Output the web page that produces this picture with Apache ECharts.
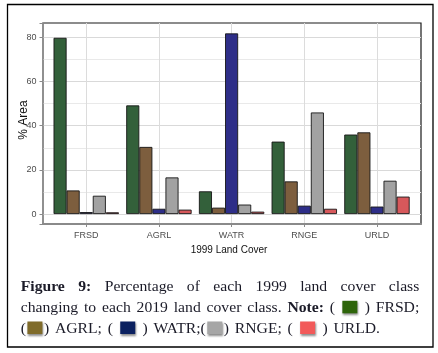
<!DOCTYPE html>
<html><head><meta charset="utf-8">
<script src="https://cdn.jsdelivr.net/npm/echarts@6/dist/echarts.min.js"></script>
<style>html,body{margin:0;padding:0;background:#fff}#c{width:438px;height:353px}</style>
</head><body><div id="c"></div>
<script>
// ---- data ----
const categories = ['FRSD', 'AGRL', 'WATR', 'RNGE', 'URLD'];
const seriesNames = ['FRSD', 'AGRL', 'WATR', 'RNGE', 'URLD'];
const frsdValues = [79.8, 49.2, 10.3, 32.8, 36.0];
const agrlValues = [10.7, 30.4, 2.9, 14.8, 37.0];
const watrValues = [0.9, 2.4, 81.8, 3.8, 3.4];
const rngeValues = [8.3, 16.6, 4.3, 46.0, 15.1];
const urldValues = [0.8, 2.0, 1.1, 2.4, 7.9];
const yTickLabels = [0, 20, 40, 60, 80];
const xTitle = '1999 Land Cover';
const yTitle = '% Area';

// ---- styles ----
const barColors = ['#33603a', '#7d5e3e', '#2e2e88', '#a2a2a2', '#d7585b'];
const swatchColors = ['#2d640a', '#7f6b2a', '#0b2160', '#a6a6a6', '#f25a5a'];
const SANS = '"Liberation Sans Narrow", "Liberation Sans", Arial, sans-serif';
const SANS2 = '"Liberation Sans", Arial, sans-serif';
const SERIF = '"Liberation Serif", "Times New Roman", serif';

const chart = echarts.init(document.getElementById('c'), null, {renderer: 'canvas'});

const allValues = [frsdValues, agrlValues, watrValues, rngeValues, urldValues];
const yMin = -4.5, yMax = 86.5;

// split line colours cycle per 0.5 step starting at -4.5
const splitColors = [];
for (let i = 0; i < 40; i++) splitColors.push('rgba(0,0,0,0)');
splitColors[9] = '#d9d9d9';   // multiples of 20
splitColors[29] = '#e9e9e9';  // 10, 30, 50, 70

// ---- caption layout ----
const CAP_SIZE = 14;
const SX = 1.12;
const SW_W = 15, SW_H = 12.5, SW_PAD = 1.5;
const ctx = document.createElement('canvas').getContext('2d');
function fontStr(b) { return (b ? 'bold ' : '') + CAP_SIZE + 'px ' + SERIF; }
function pieceW(p) { if (p.sw) return SW_W + SW_PAD * 2; ctx.font = fontStr(p.b); return ctx.measureText(p.t).width * SX; }
const T = (t, b) => ({t: t, b: !!b});
const S = (c) => ({sw: c});
const capLines = [
  {words: [[T('Figure', 1)], [T('9:', 1)], [T('Percentage')], [T('of')], [T('each')], [T('1999')], [T('land')], [T('cover')], [T('class')]], x0: 20.7, x1: 419.3, base: 292.3},
  {words: [[T('changing')], [T('to')], [T('each')], [T('2019')], [T('land')], [T('cover')], [T('class.')], [T('Note:', 1)], [T('(')], [S(swatchColors[0])], [T(')')], [T('FRSD;')]], x0: 20.7, x1: 419.3, base: 313.3},
  {words: [[T('('), S(swatchColors[1]), T(')')], [T('AGRL;')], [T('(')], [S(swatchColors[2])], [T(')')], [T('WATR;('), S(swatchColors[3]), T(')')], [T('RNGE;')], [T('(')], [S(swatchColors[4])], [T(')')], [T('URLD.')]], x0: 20.7, x1: 380, base: 334}
];
const captionEls = [];
capLines.forEach(line => {
  const widths = line.words.map(w => w.reduce((s, p) => s + pieceW(p), 0));
  const total = widths.reduce((a, b) => a + b, 0);
  const gap = (line.x1 - line.x0 - total) / (line.words.length - 1);
  let x = line.x0;
  line.words.forEach((w, wi) => {
    w.forEach(p => {
      if (p.sw) {
        captionEls.push({type: 'rect', shape: {x: x + SW_PAD, y: line.base - SW_H, width: SW_W, height: SW_H},
          style: {fill: p.sw, shadowBlur: 2, shadowColor: 'rgba(0,0,0,0.45)', shadowOffsetX: 1, shadowOffsetY: 1.5}});
      } else {
        captionEls.push({type: 'text', x: x, y: line.base - 4.6, scaleX: SX,
          style: {text: p.t, font: fontStr(p.b), fill: '#1b1b28', align: 'left', verticalAlign: 'middle', textAlign: 'left', textVerticalAlign: 'middle'}});
      }
      x += pieceW(p);
    });
    x += gap;
  });
});

const option = {
  animation: false,
  backgroundColor: '#ffffff',
  grid: [
    {left: 43, right: 17, top: 23, bottom: 129, show: true, backgroundColor: '#fff', borderColor: '#1a1a1a', borderWidth: 1.2, containLabel: false},
    {left: 49.9, right: 24.7, top: 23, bottom: 129, containLabel: false}
  ],
  xAxis: [
    {gridIndex: 0, type: 'value', min: 0, max: 1, axisLine: {show: true, onZero: false, lineStyle: {color: '#8a8a8a', width: 2.2}},
      axisTick: {show: false}, axisLabel: {show: false}, splitLine: {show: false}},
    {gridIndex: 1, type: 'category', data: categories, boundaryGap: true,
      axisLine: {show: false, onZero: false},
      axisTick: {show: true, alignWithLabel: true, length: 3, lineStyle: {color: '#8a8a8a', width: 1}},
      axisLabel: {margin: 7, fontSize: 9, color: '#4d4d4d', fontFamily: SANS},
      splitLine: {show: true, alignWithLabel: true, lineStyle: {color: '#dcdcdc', width: 1}}}
  ],
  yAxis: [
    {gridIndex: 0, type: 'value', min: yMin, max: yMax, interval: 0.5,
      axisLine: {show: true, onZero: false, lineStyle: {color: '#9a9a9a', width: 1.5}},
      axisTick: {show: false},
      axisLabel: {margin: 6.5, fontSize: 9, color: '#4d4d4d', fontFamily: SANS,
        formatter: v => (yTickLabels.some(t => Math.abs(t - v) < 1e-6) ? String(Math.round(v)) : '')},
      splitLine: {show: true, lineStyle: {color: splitColors, width: 1}}},
    {gridIndex: 0, type: 'value', min: yMin, max: yMax, splitNumber: 5, position: 'left',
      axisLine: {show: false, onZero: false}, axisTick: {show: true, length: 3.5, lineStyle: {color: '#8a8a8a'}},
      axisLabel: {show: false}, splitLine: {show: false}},
    {gridIndex: 1, type: 'value', min: yMin, max: yMax, show: false, splitLine: {show: false}}
  ],
  series: allValues.map((vals, i) => ({
    name: seriesNames[i], type: 'bar', xAxisIndex: 1, yAxisIndex: 2,
    data: vals, barCategoryGap: '10%', barGap: '0%',
    itemStyle: {color: barColors[i], borderColor: '#161616', borderWidth: 0.9},
    emphasis: {disabled: true}
  })),
  graphic: [
    {type: 'text', x: 229, y: 250, style: {text: xTitle, font: '10px ' + SANS2, fill: '#111', align: 'center', verticalAlign: 'middle', textAlign: 'center', textVerticalAlign: 'middle'}},
    {type: 'text', x: 24, y: 120, rotation: Math.PI / 2, style: {text: yTitle, font: '12px ' + SANS2, fill: '#111', align: 'center', verticalAlign: 'middle', textAlign: 'center', textVerticalAlign: 'middle'}},
    {type: 'rect', shape: {x: 7.5, y: 4.5, width: 425.5, height: 342.5}, style: {fill: 'none', stroke: '#000', lineWidth: 1.3}}
  ].concat(captionEls)
};
chart.setOption(option);
</script></body></html>
